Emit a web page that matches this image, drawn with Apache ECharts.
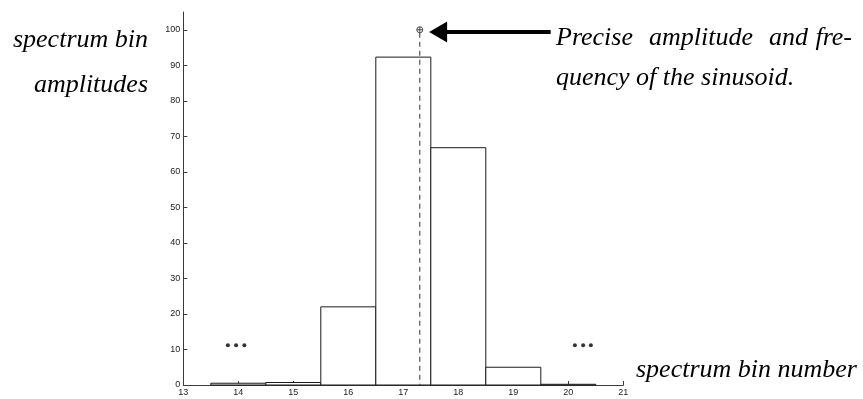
<!DOCTYPE html>
<html>
<head>
<meta charset="utf-8">
<script src="https://cdn.jsdelivr.net/npm/echarts@6/dist/echarts.min.js"></script>
<style>
html,body{margin:0;padding:0;background:#fff;}
#chart{width:863px;height:399px;}
</style>
</head>
<body>
<div id="chart"></div>
<script>
// histogram bins (centre) and their amplitudes
var bins = [14, 15, 16, 17, 18, 19, 20];
var amps = [0.5, 0.7, 22, 92.3, 66.8, 5, 0.2];
var xTicks = [13, 14, 15, 16, 17, 18, 19, 20, 21];
var yTicks = [0, 10, 20, 30, 40, 50, 60, 70, 80, 90, 100];
// the true sinusoid
var peak = [17.3, 100];
// arrow pointing at it (from, to)
var arrowFrom = [19.68, 99.4];
var arrowTo = [17.47, 99.4];
// "..." marks
var dotsX = [13.81, 13.96, 14.11, 20.12, 20.27, 20.41];
var dotsY = 11.2;

var axisCol = '#3a3a3a';
var serif = '"Liberation Serif", "DejaVu Serif", serif';
var labFont = 'italic 26px ' + serif;

var barData = [];
for (var i = 0; i < bins.length; i++) barData.push([bins[i], amps[i]]);
var dotData = [];
for (var j = 0; j < dotsX.length; j++) dotData.push([dotsX[j], dotsY]);

function txt(s, x, y, align) {
    return {type: 'text', x: x, y: y, style: {text: s, align: align, verticalAlign: 'middle', font: labFont, fill: '#000'}};
}

var myChart = echarts.init(document.getElementById('chart'));
var option = {
    animation: false,
    grid: {left: 183.3, right: 239.7, top: 12, bottom: 14, containLabel: false},
    xAxis: {
        type: 'value',
        min: 13, max: 21, interval: 1,
        axisLine: {lineStyle: {color: axisCol, width: 1}},
        axisTick: {inside: true, length: 4, lineStyle: {color: axisCol}, customValues: xTicks},
        axisLabel: {customValues: xTicks, margin: 3, fontFamily: '"Liberation Sans", Arial, sans-serif', fontSize: 9, color: '#222'},
        splitLine: {show: false}
    },
    yAxis: {
        type: 'value',
        min: 0, max: 105,
        axisLine: {show: true, lineStyle: {color: axisCol, width: 1}},
        axisTick: {show: true, inside: true, length: 4, lineStyle: {color: axisCol}, customValues: yTicks},
        axisLabel: {customValues: yTicks, margin: 3, fontFamily: '"Liberation Sans", Arial, sans-serif', fontSize: 9, color: '#222'},
        splitLine: {show: false}
    },
    series: [
        {
            type: 'custom',
            clip: false,
            data: barData,
            renderItem: function (params, api) {
                var p0 = api.coord([api.value(0) - 0.5, api.value(1)]);
                var p1 = api.coord([api.value(0) + 0.5, 0]);
                return {
                    type: 'rect',
                    shape: {x: p0[0], y: p0[1], width: p1[0] - p0[0], height: p1[1] - p0[1]},
                    style: {fill: '#fff', stroke: '#1a1a1a', lineWidth: 1}
                };
            },
            z: 2
        },
        {
            type: 'custom',
            clip: false,
            data: [peak],
            renderItem: function (params, api) {
                var top = api.coord([api.value(0), api.value(1)]);
                var bot = api.coord([api.value(0), 0]);
                var r = 3;
                return {
                    type: 'group',
                    children: [
                        {type: 'line', shape: {x1: top[0], y1: top[1] + r, x2: bot[0], y2: bot[1]},
                            style: {stroke: '#333', lineWidth: 1, lineDash: [5, 4]}},
                        {type: 'circle', shape: {cx: top[0], cy: top[1], r: r},
                            style: {fill: '#fff', stroke: '#222', lineWidth: 0.8}},
                        {type: 'line', shape: {x1: top[0] - r, y1: top[1], x2: top[0] + r, y2: top[1]},
                            style: {stroke: '#222', lineWidth: 0.8}},
                        {type: 'line', shape: {x1: top[0], y1: top[1] - r, x2: top[0], y2: top[1] + r},
                            style: {stroke: '#222', lineWidth: 0.8}}
                    ]
                };
            },
            z: 3
        },
        {
            type: 'custom',
            clip: false,
            data: [[arrowFrom[0], arrowFrom[1], arrowTo[0], arrowTo[1]]],
            renderItem: function (params, api) {
                var a = api.coord([api.value(0), api.value(1)]);
                var b = api.coord([api.value(2), api.value(3)]);
                return {
                    type: 'group',
                    children: [
                        {type: 'line', shape: {x1: a[0], y1: a[1], x2: b[0] + 14, y2: b[1]},
                            style: {stroke: '#000', lineWidth: 4}},
                        {type: 'polygon', shape: {points: [[b[0], b[1]], [b[0] + 18, b[1] - 10.5], [b[0] + 18, b[1] + 10.5]]},
                            style: {fill: '#000'}}
                    ]
                };
            },
            z: 3
        },
        {
            type: 'scatter',
            data: dotData,
            symbol: 'circle',
            symbolSize: 4,
            itemStyle: {color: '#000'},
            z: 3
        }
    ],
    graphic: [
        txt('spectrum bin', 148, 40, 'right'),
        txt('amplitudes', 148, 85, 'right'),
        txt('Precise', 556, 38, 'left'),
        txt('amplitude', 649, 38, 'left'),
        txt('and', 769, 38, 'left'),
        txt('fre-', 852, 38, 'right'),
        txt('quency of the sinusoid.', 556, 78, 'left'),
        txt('spectrum bin number', 636, 370, 'left')
    ]
};
myChart.setOption(option);
</script>
</body>
</html>
